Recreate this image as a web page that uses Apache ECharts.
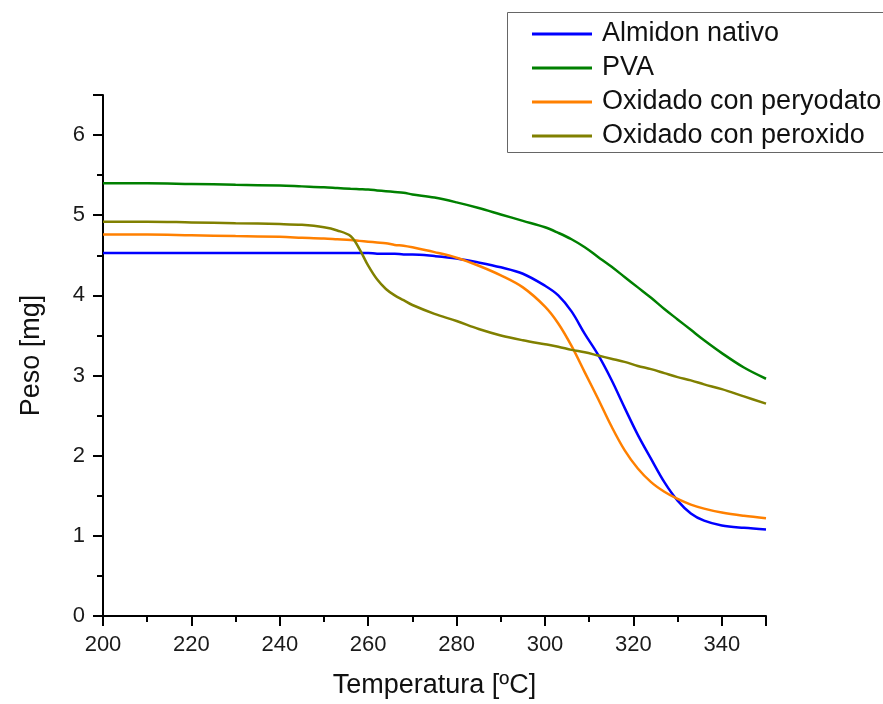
<!DOCTYPE html>
<html>
<head>
<meta charset="utf-8">
<script src="https://cdn.jsdelivr.net/npm/echarts@6/dist/echarts.min.js"></script>
<style>
  html, body { margin: 0; padding: 0; background: #fff; }
  #chart { width: 883px; height: 704px; }
</style>
</head>
<body>
<div id="chart"></div>
<script>
const seriesNames = ["Almidon nativo", "PVA", "Oxidado con peryodato", "Oxidado con peroxido"];
const seriesColors = ["#0000ff", "#008000", "#ff8000", "#808000"];

// temperatura (ºC)
const temps = [200, 210, 220, 230, 240, 245, 250, 253, 256, 258, 260, 262, 264, 266, 268, 270, 275, 280,
  285, 290, 295, 300, 303, 306, 309, 312, 315, 318, 321, 324, 327, 330, 333, 336, 340, 345, 350];

// peso (mg)
const almidonNativo = [4.53, 4.53, 4.53, 4.53, 4.53, 4.53, 4.53, 4.53, 4.53, 4.53, 4.53, 4.52, 4.52, 4.52, 4.51, 4.51, 4.49, 4.46,
  4.41, 4.35, 4.27, 4.12, 4.00, 3.80, 3.52, 3.26, 2.95, 2.60, 2.26, 1.96, 1.67, 1.44, 1.28, 1.19, 1.13, 1.10, 1.08];
const pva = [5.40, 5.40, 5.39, 5.38, 5.37, 5.36, 5.35, 5.34, 5.33, 5.325, 5.32, 5.31, 5.30, 5.29, 5.28, 5.26, 5.22, 5.16,
  5.09, 5.01, 4.93, 4.85, 4.78, 4.70, 4.60, 4.48, 4.36, 4.23, 4.10, 3.97, 3.83, 3.70, 3.57, 3.44, 3.28, 3.10, 2.96];
const peryodato = [4.76, 4.76, 4.75, 4.74, 4.73, 4.72, 4.71, 4.70, 4.69, 4.68, 4.67, 4.66, 4.65, 4.63, 4.62, 4.60, 4.54, 4.47,
  4.37, 4.25, 4.10, 3.86, 3.65, 3.37, 3.04, 2.71, 2.37, 2.07, 1.84, 1.67, 1.55, 1.46, 1.39, 1.34, 1.29, 1.25, 1.22];
const peroxido = [4.92, 4.92, 4.91, 4.90, 4.89, 4.88, 4.85, 4.81, 4.74, 4.58, 4.37, 4.20, 4.08, 4.00, 3.94, 3.88, 3.77, 3.68,
  3.58, 3.50, 3.44, 3.39, 3.36, 3.32, 3.29, 3.25, 3.21, 3.17, 3.12, 3.08, 3.03, 2.98, 2.94, 2.89, 2.83, 2.74, 2.65];

const seriesValues = [almidonNativo, pva, peryodato, peroxido];

const chart = echarts.init(document.getElementById("chart"));

const axisCommon = {
  axisLine: { show: true, lineStyle: { color: "#000", width: 2 } },
  axisTick: { show: true, inside: false, length: 10, lineStyle: { color: "#000", width: 2 } },
  minorTick: { show: true, splitNumber: 2, length: 6, lineStyle: { color: "#000", width: 2 } },
  splitLine: { show: false },
  axisLabel: { color: "#1a1a1a", fontSize: 22, fontFamily: "Liberation Sans", showMaxLabel: false, margin: 18 },
  nameTextStyle: { color: "#111", fontSize: 27, fontFamily: "Liberation Sans" },
};

const option = {
  animation: false,
  backgroundColor: "#fff",
  grid: { left: 103, right: 117, top: 95, bottom: 86 },
  // legend frame runs off the right edge, like the original
  graphic: [{
    type: "rect",
    shape: { x: 507.5, y: 12.5, width: 420, height: 140 },
    style: { fill: "none", stroke: "#666", lineWidth: 1 },
    silent: true,
  }],
  legend: {
    orient: "vertical",
    left: 507,
    top: 12,
    data: seriesNames,
    icon: "rect",
    itemWidth: 60,
    itemHeight: 3,
    itemGap: 6,
    padding: [8, 10, 4, 25],
    textStyle: { color: "#111", fontSize: 27, fontFamily: "Liberation Sans", lineHeight: 28, padding: [0, 0, 0, 5] },
  },
  xAxis: {
    ...axisCommon,
    type: "value",
    min: 200,
    max: 350,
    interval: 20,
    name: "Temperatura [ºC]",
    nameLocation: "middle",
    nameGap: 56,
  },
  yAxis: {
    ...axisCommon,
    type: "value",
    min: 0,
    max: 6.5,
    interval: 1,
    name: "Peso [mg]",
    nameLocation: "middle",
    nameGap: 58,
  },
  series: seriesNames.map((name, i) => ({
    name: name,
    type: "line",
    symbol: "none",
    smooth: 0.35,
    color: seriesColors[i],
    lineStyle: { width: 2.5, color: seriesColors[i] },
    data: temps.map((t, j) => [t, seriesValues[i][j]]),
  })),
};

chart.setOption(option);
</script>
</body>
</html>
